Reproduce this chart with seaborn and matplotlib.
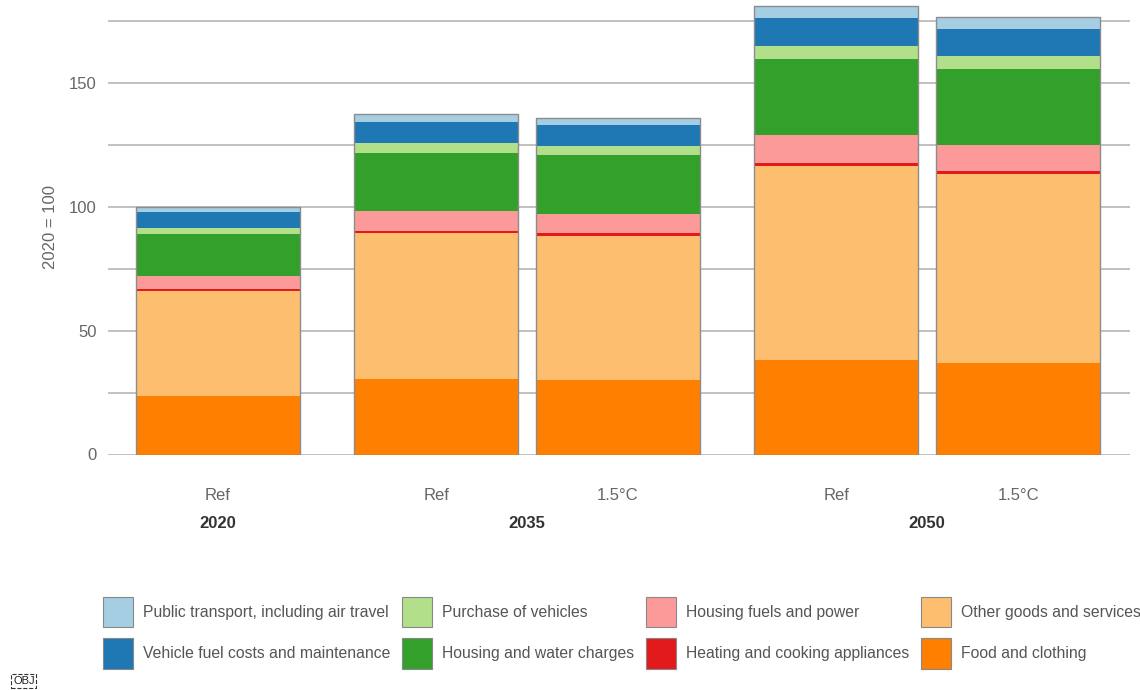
import numpy as np
import seaborn as sns
import matplotlib.pyplot as plt
from matplotlib.patches import Patch
from matplotlib.transforms import blended_transform_factory

sns.set_theme(style='white')
plt.rcParams['font.family'] = ['Liberation Sans', 'DejaVu Sans']

scenarios = ['Ref', 'Ref', '1.5°C', 'Ref', '1.5°C']
years = ['2020', '2035', '2050']
positions = [0, 1.2, 2.2, 3.4, 4.4]
year_centres = [0, 1.7, 3.9]

# bottom to top
categories = ['Food and clothing', 'Other goods and services',
              'Heating and cooking appliances', 'Housing fuels and power',
              'Housing and water charges', 'Purchase of vehicles',
              'Vehicle fuel costs and maintenance',
              'Public transport, including air travel']
food = [23.5, 30.6, 30.2, 38.0, 36.9]
other = [42.6, 58.8, 58.1, 78.4, 76.5]
heating = [0.6, 0.9, 1.1, 1.5, 1.2]
housing_fuels = [5.4, 8.1, 7.8, 11.0, 10.4]
housing_water = [16.9, 23.5, 23.8, 30.8, 30.9]
purchase = [2.6, 3.8, 3.7, 5.3, 5.1]
vehicle_fuel = [6.5, 8.6, 8.4, 11.2, 10.9]
public = [1.9, 3.1, 2.9, 4.8, 4.8]

colours = sns.color_palette('Paired', 8)
colour_map = {
    'Public transport, including air travel': colours[0],
    'Vehicle fuel costs and maintenance': colours[1],
    'Purchase of vehicles': colours[2],
    'Housing and water charges': colours[3],
    'Housing fuels and power': colours[4],
    'Heating and cooking appliances': colours[5],
    'Other goods and services': colours[6],
    'Food and clothing': colours[7],
}


def main():
    layers = [food, other, heating, housing_fuels, housing_water,
              purchase, vehicle_fuel, public]
    cum = np.cumsum(np.array(layers), axis=0)

    fig = plt.figure(figsize=(11.4, 6.9), dpi=100)
    ax = fig.add_axes([108 / 1140, 1 - 454.5 / 690, 1022 / 1140,
                       454.5 / 690])

    # draw from the top layer down so each lower layer covers the rest
    for i in range(len(categories) - 1, -1, -1):
        sns.barplot(x=positions, y=cum[i], native_scale=True, width=0.9,
                    color=colour_map[categories[i]], saturation=1,
                    linewidth=0, errorbar=None, ax=ax, zorder=2)
    sns.barplot(x=positions, y=cum[-1], native_scale=True, width=0.9,
                color='#8c8c8c', fill=False, linewidth=1.0,
                errorbar=None, ax=ax, zorder=3)

    ax.set_xlim(-0.604, 5.015)
    ax.set_ylim(0, 183.6)
    ax.set_yticks([0, 50, 100, 150])
    ax.set_yticks([25, 75, 125, 175], minor=True)
    ax.grid(axis='y', which='both', color='#b0b0b0', linewidth=1.1,
            zorder=0)
    ax.set_axisbelow(True)
    for s in ax.spines.values():
        s.set_visible(False)
    ax.tick_params(axis='y', length=0, pad=8, labelsize=12,
                   labelcolor='#666666')
    ax.tick_params(axis='x', length=0, pad=24, labelsize=12,
                   labelcolor='#666666')
    ax.set_xticks(positions)
    ax.set_xticklabels(scenarios)
    ax.set_xlabel('')
    ax.set_ylabel('2020 = 100', fontsize=12, color='#666666', labelpad=8)

    trans = blended_transform_factory(ax.transData, ax.transAxes)
    for x, yr in zip(year_centres, years):
        ax.text(x, -0.152, yr, transform=trans, ha='center', va='center',
                fontsize=12, fontweight='bold', color='#333333')

    order = ['Public transport, including air travel',
             'Vehicle fuel costs and maintenance',
             'Purchase of vehicles', 'Housing and water charges',
             'Housing fuels and power', 'Heating and cooking appliances',
             'Other goods and services', 'Food and clothing']
    handles = [Patch(facecolor=colour_map[c], edgecolor='#888888',
                     linewidth=0.8, label=c) for c in order]
    fig.legend(handles=handles, ncol=4, loc='upper left',
               bbox_to_anchor=(89 / 1140, 1 - 583 / 690), frameon=False,
               fontsize=11.3, labelcolor='#555555', handlelength=1.9,
               handleheight=2.6, handletextpad=0.64, labelspacing=0.7,
               columnspacing=0.75)

    fig.text(13 / 1140, 1 - 681 / 690, 'OBJ', fontsize=8, color='#222222',
             va='center', ha='left',
             bbox=dict(boxstyle='square,pad=0.15', fc='none', ec='#333333',
                       ls='--', lw=0.8))

    fig.savefig('out.png', dpi=100)


if __name__ == '__main__':
    main()
